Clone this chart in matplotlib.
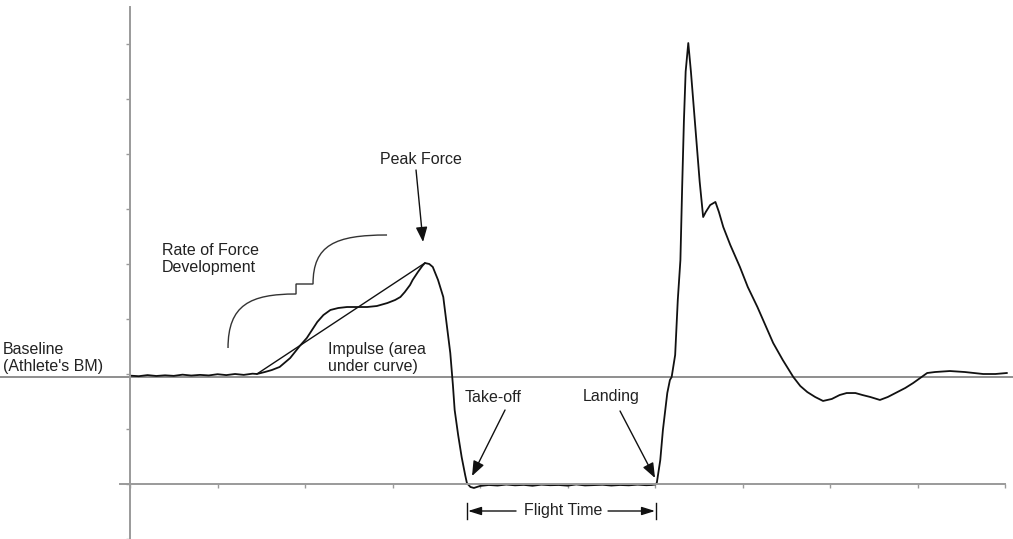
import matplotlib.pyplot as plt
from matplotlib.path import Path
from matplotlib.patches import PathPatch

plt.rcParams['font.family'] = ['Liberation Sans', 'DejaVu Sans']

# vertical ground reaction force during a countermovement jump
# time in ms, force in N
quiet_t = [0, 10, 20, 30, 40, 50, 60, 70, 80, 90, 100, 110, 120, 130, 140, 145]
quiet_f = [985, 980, 990, 982, 988, 983, 994, 986, 992, 987, 998, 990, 1000, 992, 1003, 1000]

push_t = [154, 162, 171, 183, 194, 202, 208, 214, 221, 229, 238, 248, 259, 271, 282,
          294, 303, 309, 314, 320, 323, 329, 334, 337]
push_f = [1018, 1036, 1064, 1145, 1255, 1327, 1400, 1473, 1536, 1582, 1600, 1609, 1609, 1609, 1618,
          1645, 1673, 1700, 1745, 1809, 1855, 1927, 1982, 2009]

drop_t = [342, 346, 352, 358, 362, 366, 369, 371, 375, 379, 383, 385, 389, 393, 400]
drop_f = [2000, 1973, 1855, 1700, 1445, 1191, 900, 673, 445, 245, 82, 9, -27, -36, -18]

flight_t = [410, 420, 430, 440, 450, 460, 470, 480, 490, 500, 510, 520, 530, 540, 550,
            560, 570, 580, 590, 596, 600, 602]
flight_f = [-9, -14, -5, -12, -8, -16, -6, -11, -9, -15, -4, -13, -10, -7, -14,
            -9, -12, -6, -11, -9, -5, 9]

land_t = [606, 609, 614, 617, 619, 623, 626, 629, 631, 633, 635, 638, 641, 644, 648, 651, 655,
          658, 663, 669, 673, 678, 686, 697, 706, 717, 726, 735, 746, 758, 766, 774, 783, 792,
          802, 811, 819, 829, 837, 846, 857, 866, 877, 886, 895, 903, 911, 920, 937, 954, 975,
          989, 1002]
land_f = [218, 491, 827, 945, 973, 1173, 1673, 2036, 2700, 3300, 3750, 4009, 3750, 3450, 3050, 2750, 2427,
          2473, 2536, 2564, 2473, 2336, 2173, 1973, 1791, 1609, 1445, 1282, 1127, 973, 891, 836, 791, 755,
          773, 809, 827, 827, 809, 791, 764, 791, 836, 873, 918, 964, 1009, 1018, 1027, 1018, 1000,
          1000, 1009]

body_weight = 975

time_ms = quiet_t + push_t + drop_t + flight_t + land_t
force_n = quiet_f + push_f + drop_f + flight_f + land_f

fig = plt.figure(figsize=(10.13, 5.39), dpi=100)
ax = fig.add_axes([0, 0, 1, 1])
ax.set_xlim(-148.6, 1009.1)
ax.set_ylim(-500, 4400)


def P(x, y):
    # pixel position on the page -> data coords (for annotations only)
    return ((x - 130) / 0.875, (484 - y) * 500 / 55)


axis_col = '#9a9a9a'
for s in ['top', 'right']:
    ax.spines[s].set_visible(False)
ax.spines['left'].set_position(('data', 0))
ax.spines['left'].set_bounds(-500, 4336)
ax.spines['bottom'].set_position(('data', 0))
ax.spines['bottom'].set_bounds(-11, 1000)
for s in ['left', 'bottom']:
    ax.spines[s].set_color(axis_col)
    ax.spines[s].set_linewidth(1.4)
ax.set_xticks(range(0, 1001, 100))
ax.set_yticks(range(-500, 4001, 500))
ax.set_xticklabels([])
ax.set_yticklabels([])
ax.tick_params(direction='out', length=3, width=1, color=axis_col)

# baseline = athlete's body weight
ax.axhline(body_weight, color='#707070', lw=1.1)

# force trace
ax.plot(time_ms, force_n, color='#111111', lw=1.3)

# rate of force development line: onset -> peak
onset = quiet_t.index(145)
i_peak = push_f.index(max(push_f))
ax.plot([quiet_t[onset], push_t[i_peak]], [quiet_f[onset], push_f[i_peak]], color='#111111', lw=1.0)

# brace over the rise
verts = [P(228, 348), P(228, 305), P(250, 294), P(296, 294),
         P(296, 284), P(313, 284),
         P(313, 245), P(335, 235), P(387, 235)]
codes = [Path.MOVETO, Path.CURVE4, Path.CURVE4, Path.CURVE4,
         Path.LINETO, Path.LINETO,
         Path.CURVE4, Path.CURVE4, Path.CURVE4]
ax.add_patch(PathPatch(Path(verts, codes), fill=False, ec='#333333', lw=1.0))

txt = dict(fontsize=11.5, color='#222222', linespacing=1.15)
ax.text(*P(3, 358), 'Baseline\n(Athlete\'s BM)', ha='left', va='center', **txt)
ax.text(*P(162, 259), 'Rate of Force\nDevelopment', ha='left', va='center', **txt)
ax.text(*P(328, 358), 'Impulse (area\nunder curve)', ha='left', va='center', **txt)
ax.text(*P(421, 160), 'Peak Force', ha='center', va='center', **txt)
ax.text(*P(465, 397), 'Take-off', ha='left', va='center', **txt)
ax.text(*P(583, 397), 'Landing', ha='left', va='center', **txt)
ax.text(*P(563, 511), 'Flight Time', ha='center', va='center', **txt)

arr = dict(arrowstyle='-|>,head_length=0.9,head_width=0.35', color='#111111', lw=1.0,
           mutation_scale=10, shrinkA=0, shrinkB=0)
ax.annotate('', xy=P(423, 242), xytext=P(416, 170), arrowprops=arr)
ax.annotate('', xy=P(472, 476), xytext=P(505, 410), arrowprops=arr)
ax.annotate('', xy=P(655, 478), xytext=P(620, 411), arrowprops=arr)

small = dict(arrowstyle='-|>,head_length=0.8,head_width=0.25', color='#111111', lw=1.0,
             mutation_scale=10, shrinkA=0, shrinkB=0)
ax.annotate('', xy=P(468, 511), xytext=P(516, 511), arrowprops=small)
ax.annotate('', xy=P(655, 511), xytext=P(608, 511), arrowprops=small)
for bx in [467, 656]:
    (x0, y0), (x1, y1) = P(bx, 503), P(bx, 519)
    ax.plot([x0, x1], [y0, y1], color='#111111', lw=1.0)

fig.savefig('out.png', dpi=100)
